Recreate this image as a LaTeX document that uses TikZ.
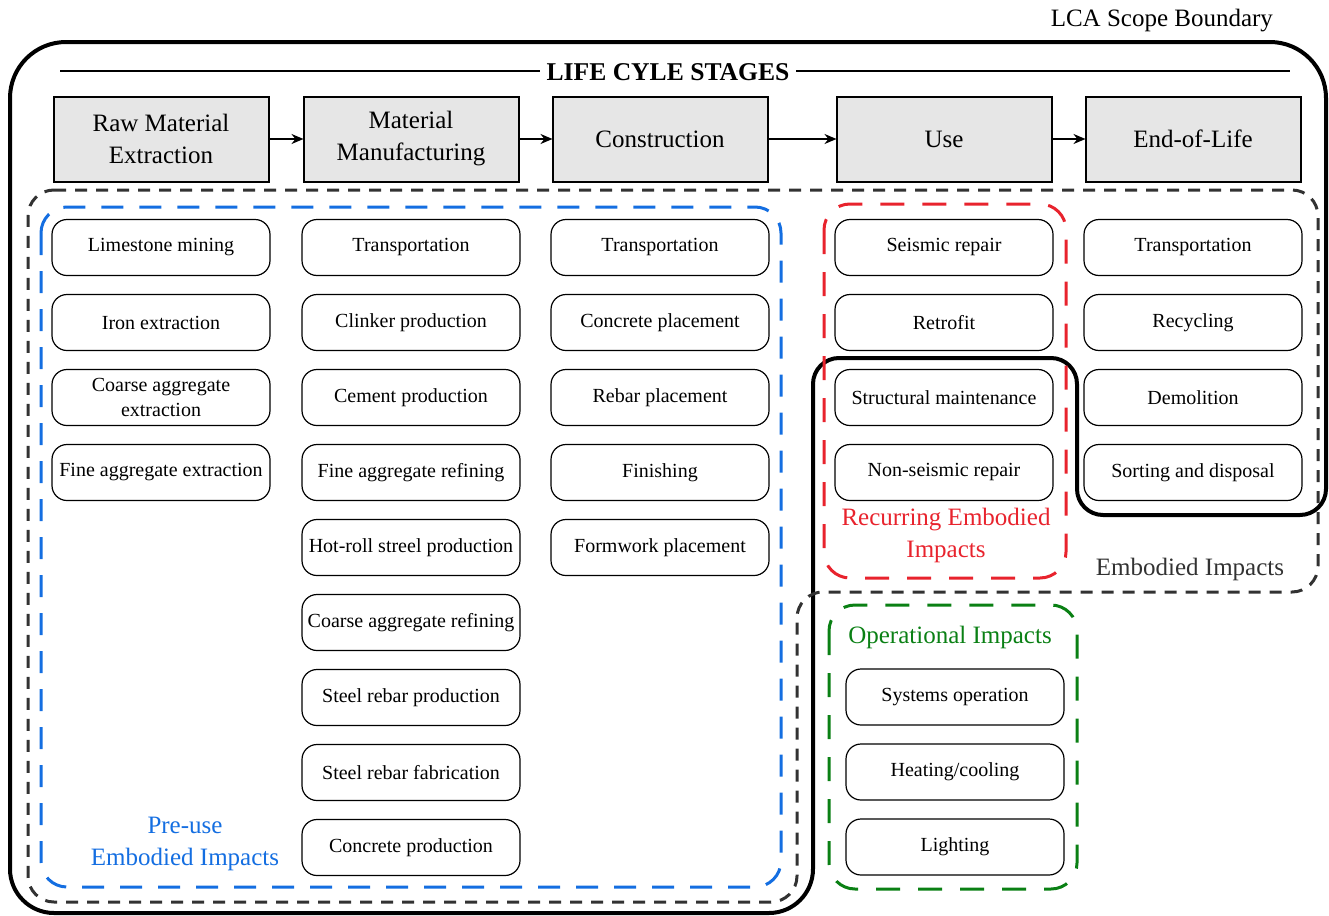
\documentclass[tikz,border=0pt]{standalone}
\usepackage{fontspec}
\setmainfont{Liberation Serif}
\usepackage{tikz}
\usetikzlibrary{arrows.meta, positioning}
\definecolor{mydark}{RGB}{50,50,50}
\definecolor{myblue}{RGB}{20,110,225}
\definecolor{myred}{RGB}{232,35,45}
\definecolor{mygreen}{RGB}{10,128,20}
\definecolor{stagegray}{RGB}{230,230,230}
\tikzset{
  stage/.style={rectangle, draw=black, fill=stagegray, outer sep=0pt,
    minimum width=107.5pt, minimum height=42.5pt, align=center,
    font=\fontsize{12.5}{16}\selectfont, line width=1pt},
  task/.style={rectangle, draw=black, rounded corners=7.5pt, outer sep=0pt,
    minimum width=109pt, minimum height=28pt, align=center, inner xsep=1pt,
    font=\fontsize{10}{12.5}\selectfont, line width=0.6pt},
  grouplabel/.style={align=center, font=\fontsize{12.5}{16}\selectfont},
  arrow/.style={-{Stealth[length=6pt, width=5pt]}, line width=0.8pt},
  boundary/.style={line width=2pt},
  embzone/.style={draw=mydark, line width=1.5pt,
    dash pattern=on 6pt off 4.5pt, rounded corners=13pt},
  prezone/.style={draw=myblue, line width=1.5pt,
    dash pattern=on 11pt off 8pt, rounded corners=13pt},
  reczone/.style={draw=myred, line width=1.5pt,
    dash pattern=on 12pt off 9pt, rounded corners=13pt},
  opzone/.style={draw=mygreen, line width=1.5pt,
    dash pattern=on 12pt off 9pt, rounded corners=13pt}
}

\begin{document}
\begin{tikzpicture}[x=0.5pt, y=-0.5pt, node distance=9.5pt and 17pt]
  \useasboundingbox (0,0) rectangle (1329,916);

  \draw[boundary] (10,300) [rounded corners=28pt] -- (10,42) -- (1326,42)
    [rounded corners=13pt] -- (1326,515) -- (1077,515) -- (1077,358) -- (813,358)
    [rounded corners=22pt] -- (813,913) -- (10,913) -- cycle;
  \node[grouplabel, anchor=east] (lca) at (1280,21) {LCA Scope Boundary};

  \draw[embzone] (28,190) -- (1318,190) -- (1318,592) -- (797,592)
    -- (797,902) -- (28,902) -- cycle;
  \draw[prezone] (41,207) rectangle (781,887);
  \draw[reczone] (824,204) rectangle (1066,578);
  \draw[opzone] (829,605) rectangle (1077,889);

  \node[font=\fontsize{12.8}{15}\selectfont\bfseries] (title) at (668,72) {LIFE CYLE STAGES};
  \coordinate (tl) at (60,71);
  \coordinate (tr) at (1290,71);
  \draw[line width=0.8pt] (tl) -- (title.west |- tl);
  \draw[line width=0.8pt] (title.east |- tr) -- (tr);

  \node[stage] (raw) at (161,139) {Raw Material\\Extraction};
  \node[stage, right=17.5pt of raw] (man) {Material\\Manufacturing};
  \node[stage, right=17pt of man] (con) {Construction};
  \node[stage, right=34.5pt of con] (use) {Use};
  \node[stage, right=17pt of use] (eol) {End-of-Life};
  \draw[arrow] (raw) -- (man);
  \draw[arrow] (man) -- (con);
  \draw[arrow] (con) -- (use);
  \draw[arrow] (use) -- (eol);

  \node[task, below=19pt of raw] (lime) {Limestone mining};
  \node[task, below=of lime] (iron) {Iron extraction};
  \node[task, below=of iron] (cagg) {Coarse aggregate\\extraction};
  \node[task, below=of cagg] (fagg) {Fine aggregate extraction};

  \node[task, below=19pt of man] (mtr) {Transportation};
  \node[task, below=of mtr] (clk) {Clinker production};
  \node[task, below=of clk] (cem) {Cement production};
  \node[task, below=of cem] (far) {Fine aggregate refining};
  \node[task, below=of far] (hot) {Hot-roll streel production};
  \node[task, below=of hot] (car) {Coarse aggregate refining};
  \node[task, below=of car] (srp) {Steel rebar production};
  \node[task, below=of srp] (srf) {Steel rebar fabrication};
  \node[task, below=of srf] (ccp) {Concrete production};

  \node[task, below=19pt of con] (ctr) {Transportation};
  \node[task, below=of ctr] (cpl) {Concrete placement};
  \node[task, below=of cpl] (rpl) {Rebar placement};
  \node[task, below=of rpl] (fin) {Finishing};
  \node[task, below=of fin] (fpl) {Formwork placement};

  \node[task, below=19pt of use] (srep) {Seismic repair};
  \node[task, below=of srep] (retro) {Retrofit};
  \node[task, below=of retro] (smt) {Structural maintenance};
  \node[task, below=of smt] (nsr) {Non-seismic repair};

  \node[task, below=19pt of eol] (etr) {Transportation};
  \node[task, below=of etr] (rec) {Recycling};
  \node[task, below=of rec] (dem) {Demolition};
  \node[task, below=of dem] (sort) {Sorting and disposal};

  \node[task] (sys) at (955,697) {Systems operation};
  \node[task, below=of sys] (heat) {Heating/cooling};
  \node[task, below=of heat] (light) {Lighting};

  \node[grouplabel, text=myblue] (prelbl) at (185,844) {Pre-use\\Embodied Impacts};
  \node[grouplabel, text=myred] (reclbl) at (946,535) {Recurring Embodied\\Impacts};
  \node[grouplabel, text=mygreen] (oplbl) at (950,637) {Operational Impacts};
  \node[grouplabel, text=mydark] (emblbl) at (1190,569) {Embodied Impacts};
\end{tikzpicture}
\end{document}
